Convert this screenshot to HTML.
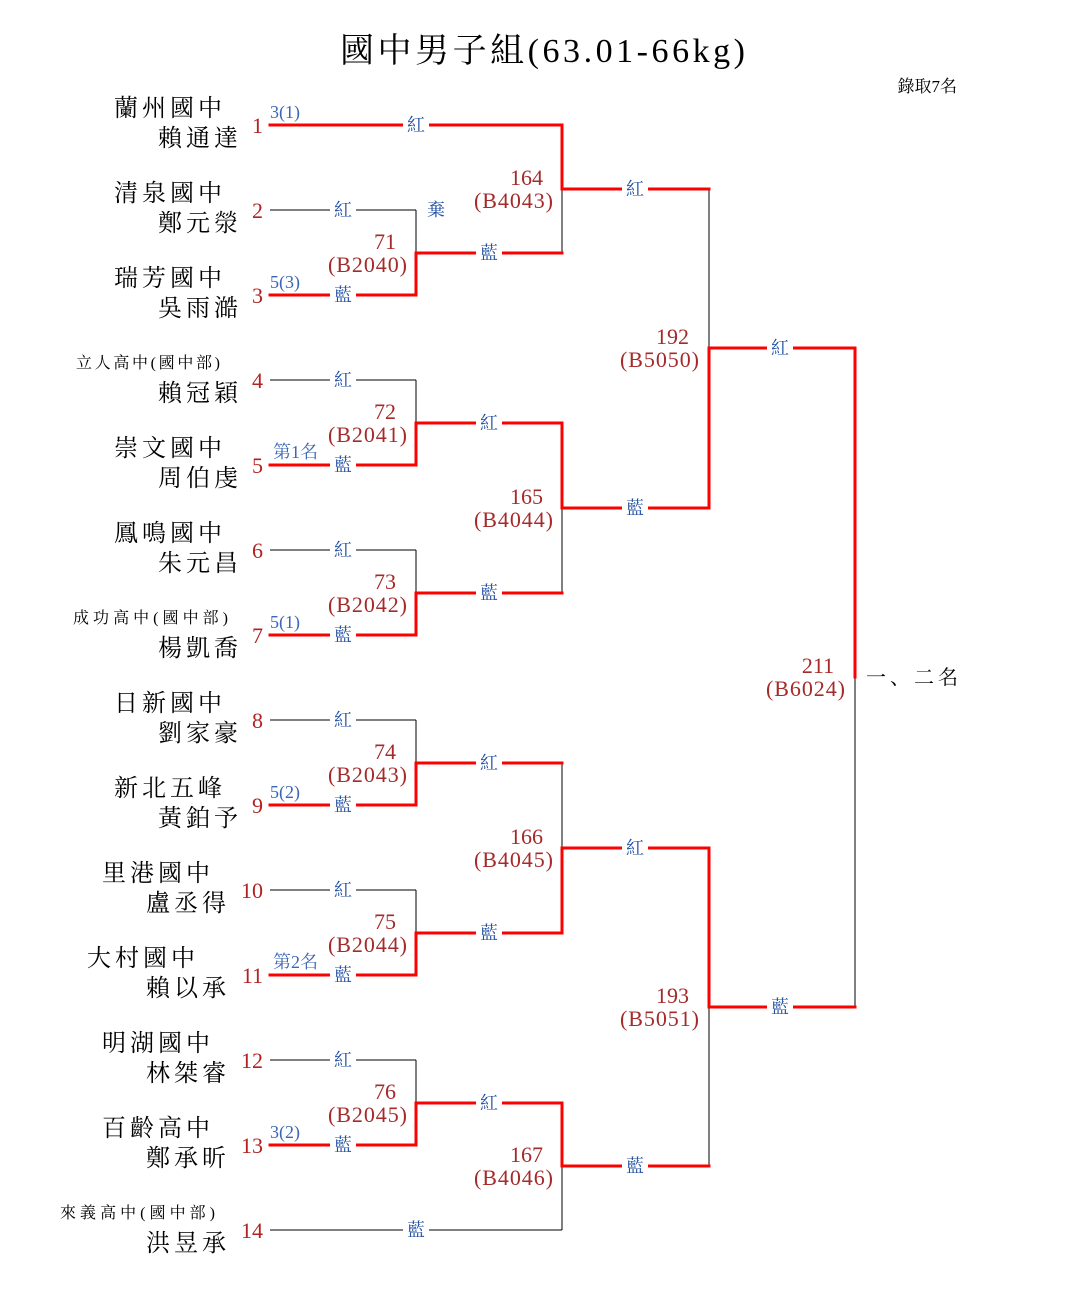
<!DOCTYPE html>
<html><head><meta charset="utf-8"><style>
html,body{margin:0;padding:0;background:#fff;}
svg{display:block;}
text{font-family:"Liberation Serif","Noto Serif CJK SC","Noto Serif CJK TC",serif;}
.sc{font-size:24px;letter-spacing:4px;fill:#000;text-anchor:end;}
.ss{font-size:16px;fill:#000;}
.nm{font-size:22px;fill:#b22222;text-anchor:end;}
.cl{font-size:18px;fill:#1f4fa0;text-anchor:middle;}
.sd{font-size:18px;fill:#3a66b8;}
.mn{font-size:22px;fill:#a52a2a;text-anchor:end;}
</style></head><body>
<svg width="1085" height="1315" viewBox="0 0 1085 1315" xmlns="http://www.w3.org/2000/svg">
<rect width="1085" height="1315" fill="#fff"/>
<text x="340" y="62" font-size="34" textLength="405" lengthAdjust="spacing">國中男子組(63.01-66kg)</text>
<text x="957" y="92" font-size="17" text-anchor="end">錄取7名</text>
<text x="866" y="684" font-size="20" textLength="92" lengthAdjust="spacing">一、二名</text>

<g stroke="#000" stroke-width="1" fill="none">
<path d="M270 210H416M270 380H416M270 550H416M270 720H416M270 890H416M270 1060H416M270 1230H562"/>
<path d="M416 210V253M416 380V423M416 550V593M416 720V763M416 890V933M416 1060V1103"/>
<path d="M562 189V253M562 508V593M562 763V848M562 1166V1230"/>
<path d="M709 189V348M709 1007V1166M855 677V1007"/>
</g>
<g stroke="#ff0000" stroke-width="3" fill="none" stroke-linecap="square">
<path d="M270 125H562M270 295H416M270 465H416M270 635H416M270 805H416M270 975H416M270 1145H416"/>
<path d="M416 253V295M416 423V465M416 593V635M416 763V805M416 933V975M416 1103V1145"/>
<path d="M416 253H562M416 423H562M416 593H562M416 763H562M416 933H562M416 1103H562"/>
<path d="M562 125V189M562 423V508M562 848V933M562 1103V1166"/>
<path d="M562 189H709M562 508H709M562 848H709M562 1166H709"/>
<path d="M709 348V508M709 848V1007"/>
<path d="M709 348H855M709 1007H855M855 348V677"/>
</g>

<g fill="#fff">
<rect x="330" y="200" width="26" height="20"/><rect x="330" y="285" width="26" height="20"/>
<rect x="330" y="370" width="26" height="20"/><rect x="330" y="455" width="26" height="20"/>
<rect x="330" y="540" width="26" height="20"/><rect x="330" y="625" width="26" height="20"/>
<rect x="330" y="710" width="26" height="20"/><rect x="330" y="795" width="26" height="20"/>
<rect x="330" y="880" width="26" height="20"/><rect x="330" y="965" width="26" height="20"/>
<rect x="330" y="1050" width="26" height="20"/><rect x="330" y="1135" width="26" height="20"/>
<rect x="403" y="115" width="26" height="20"/><rect x="403" y="1220" width="26" height="20"/>
<rect x="476" y="243" width="26" height="20"/><rect x="476" y="413" width="26" height="20"/>
<rect x="476" y="583" width="26" height="20"/><rect x="476" y="753" width="26" height="20"/>
<rect x="476" y="923" width="26" height="20"/><rect x="476" y="1093" width="26" height="20"/>
<rect x="622" y="179" width="26" height="20"/><rect x="622" y="498" width="26" height="20"/>
<rect x="622" y="838" width="26" height="20"/><rect x="622" y="1156" width="26" height="20"/>
<rect x="767" y="338" width="26" height="20"/><rect x="767" y="997" width="26" height="20"/>
</g>
<g>
<text class="cl" x="343" y="216">紅</text><text class="cl" x="343" y="301">藍</text>
<text class="cl" x="343" y="386">紅</text><text class="cl" x="343" y="471">藍</text>
<text class="cl" x="343" y="556">紅</text><text class="cl" x="343" y="641">藍</text>
<text class="cl" x="343" y="726">紅</text><text class="cl" x="343" y="811">藍</text>
<text class="cl" x="343" y="896">紅</text><text class="cl" x="343" y="981">藍</text>
<text class="cl" x="343" y="1066">紅</text><text class="cl" x="343" y="1151">藍</text>
<text class="cl" x="416" y="131">紅</text><text class="cl" x="416" y="1236">藍</text>
<text class="cl" x="436" y="216">棄</text>
<text class="cl" x="489" y="259">藍</text><text class="cl" x="489" y="429">紅</text>
<text class="cl" x="489" y="599">藍</text><text class="cl" x="489" y="769">紅</text>
<text class="cl" x="489" y="939">藍</text><text class="cl" x="489" y="1109">紅</text>
<text class="cl" x="635" y="195">紅</text><text class="cl" x="635" y="514">藍</text>
<text class="cl" x="635" y="854">紅</text><text class="cl" x="635" y="1172">藍</text>
<text class="cl" x="780" y="354">紅</text><text class="cl" x="780" y="1013">藍</text>
</g>

<text class="mn" x="396" y="249">71</text><text class="mn" x="407" y="272" textLength="79">(B2040)</text>
<text class="mn" x="396" y="419">72</text><text class="mn" x="407" y="442" textLength="79">(B2041)</text>
<text class="mn" x="396" y="589">73</text><text class="mn" x="407" y="612" textLength="79">(B2042)</text>
<text class="mn" x="396" y="759">74</text><text class="mn" x="407" y="782" textLength="79">(B2043)</text>
<text class="mn" x="396" y="929">75</text><text class="mn" x="407" y="952" textLength="79">(B2044)</text>
<text class="mn" x="396" y="1099">76</text><text class="mn" x="407" y="1122" textLength="79">(B2045)</text>
<text class="mn" x="543" y="185">164</text><text class="mn" x="553" y="208" textLength="79">(B4043)</text>
<text class="mn" x="543" y="504">165</text><text class="mn" x="553" y="527" textLength="79">(B4044)</text>
<text class="mn" x="543" y="844">166</text><text class="mn" x="553" y="867" textLength="79">(B4045)</text>
<text class="mn" x="543" y="1162">167</text><text class="mn" x="553" y="1185" textLength="79">(B4046)</text>
<text class="mn" x="689" y="344">192</text><text class="mn" x="699" y="367" textLength="79">(B5050)</text>
<text class="mn" x="689" y="1003">193</text><text class="mn" x="699" y="1026" textLength="79">(B5051)</text>
<text class="mn" x="834" y="673">211</text><text class="mn" x="845" y="696" textLength="79">(B6024)</text>

<text class="sd" x="270" y="118">3(1)</text>
<text class="sd" x="270" y="288">5(3)</text>
<text class="sd" x="273" y="458">第1名</text>
<text class="sd" x="270" y="628">5(1)</text>
<text class="sd" x="270" y="798">5(2)</text>
<text class="sd" x="273" y="968">第2名</text>
<text class="sd" x="270" y="1138">3(2)</text>

<text class="nm" x="263" y="133">1</text>
<text class="nm" x="263" y="218">2</text>
<text class="nm" x="263" y="303">3</text>
<text class="nm" x="263" y="388">4</text>
<text class="nm" x="263" y="473">5</text>
<text class="nm" x="263" y="558">6</text>
<text class="nm" x="263" y="643">7</text>
<text class="nm" x="263" y="728">8</text>
<text class="nm" x="263" y="813">9</text>
<text class="nm" x="263" y="898">10</text>
<text class="nm" x="263" y="983">11</text>
<text class="nm" x="263" y="1068">12</text>
<text class="nm" x="263" y="1153">13</text>
<text class="nm" x="263" y="1238">14</text>

<text class="sc" x="226" y="116">蘭州國中</text><text class="sc" x="242" y="146">賴通達</text>
<text class="sc" x="226" y="201">清泉國中</text><text class="sc" x="242" y="231">鄭元滎</text>
<text class="sc" x="226" y="286">瑞芳國中</text><text class="sc" x="242" y="316">吳雨澔</text>
<text class="ss" x="76" y="368" textLength="144" lengthAdjust="spacing">立人高中(國中部)</text><text class="sc" x="242" y="401">賴冠穎</text>
<text class="sc" x="226" y="456">崇文國中</text><text class="sc" x="242" y="486">周伯虔</text>
<text class="sc" x="226" y="541">鳳鳴國中</text><text class="sc" x="242" y="571">朱元昌</text>
<text class="ss" x="73" y="623" textLength="155" lengthAdjust="spacing">成功高中(國中部)</text><text class="sc" x="242" y="656">楊凱喬</text>
<text class="sc" x="226" y="711">日新國中</text><text class="sc" x="242" y="741">劉家豪</text>
<text class="sc" x="226" y="796">新北五峰</text><text class="sc" x="242" y="826">黃鉑予</text>
<text class="sc" x="214" y="881">里港國中</text><text class="sc" x="230" y="911">盧丞得</text>
<text class="sc" x="199" y="966">大村國中</text><text class="sc" x="230" y="996">賴以承</text>
<text class="sc" x="214" y="1051">明湖國中</text><text class="sc" x="230" y="1081">林桀睿</text>
<text class="sc" x="214" y="1136">百齡高中</text><text class="sc" x="230" y="1166">鄭承昕</text>
<text class="ss" x="60" y="1218" textLength="155" lengthAdjust="spacing">來義高中(國中部)</text><text class="sc" x="230" y="1251">洪昱承</text>
</svg>
</body></html>
